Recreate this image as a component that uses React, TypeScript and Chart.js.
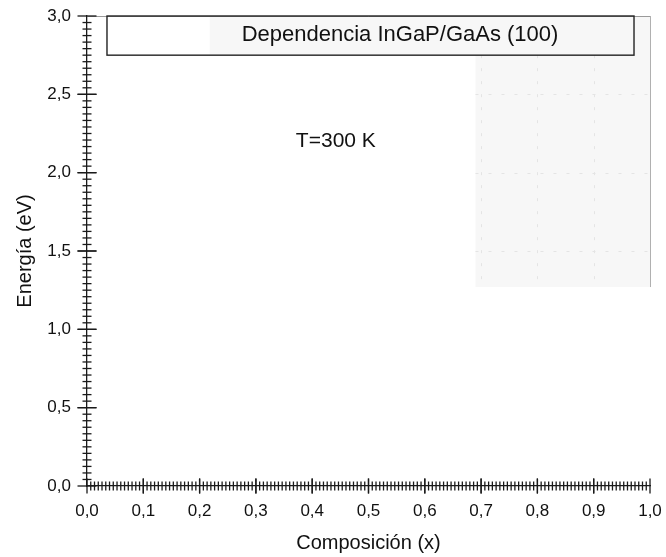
import React, { useEffect, useRef } from "react";
import { Chart, registerables } from "chart.js";

Chart.register(...registerables);

// Axis ranges and tick labels
const xTickValues = [0, 0.1, 0.2, 0.3, 0.4, 0.5, 0.6, 0.7, 0.8, 0.9, 1.0];
const xTickLabels = ["0,0", "0,1", "0,2", "0,3", "0,4", "0,5", "0,6", "0,7", "0,8", "0,9", "1,0"];
const yTickValues = [0, 0.5, 1.0, 1.5, 2.0, 2.5, 3.0];
const yTickLabels = ["0,0", "0,5", "1,0", "1,5", "2,0", "2,5", "3,0"];

// Series (the figure carries no plotted curves yet)
const seriesX: number[] = [];
const seriesY: number[] = [];

// Text annotations, anchored in data units
const titleText = "Dependencia InGaP/GaAs (100)";
const titleBoxX = [0.0355, 0.9716];
const titleBoxY = [3.0, 2.75];
const titleAt = [0.556, 2.876];
const tempText = "T=300 K";
const tempAt = [0.442, 2.2];

const FONT = "'Liberation Sans', Arial, Helvetica, sans-serif";

const fmt = (v: number, values: number[], labels: string[]) => {
  const i = values.findIndex((t) => Math.abs(t - v) < 1e-6);
  return i >= 0 ? labels[i] : "";
};

const decorPlugin = {
  id: "decor",
  beforeDatasetsDraw(chart: any) {
    const { ctx } = chart;
    const x = chart.scales.x;
    const y = chart.scales.y;
    ctx.save();
    // faint shaded patch in the upper right
    const rx0 = x.getPixelForValue(0.69);
    const rx1 = x.getPixelForValue(1.0);
    const ry0 = y.getPixelForValue(3.0);
    const ry1 = y.getPixelForValue(1.27);
    ctx.fillStyle = "#f7f7f7";
    ctx.fillRect(rx0, ry0, rx1 - rx0, ry1 - ry0);
    // shaded strip inside the title box
    const bx1 = x.getPixelForValue(titleBoxX[1]);
    const sx0 = x.getPixelForValue(0.218);
    const by0 = y.getPixelForValue(titleBoxY[0]);
    const by1 = y.getPixelForValue(titleBoxY[1]);
    ctx.fillRect(sx0, by0, bx1 - sx0, by1 - by0);
    // faint remnants of grid lines
    ctx.strokeStyle = "#e4e4e4";
    ctx.lineWidth = 1;
    ctx.setLineDash([3, 10]);
    [0.7, 0.8, 0.9].forEach((v) => {
      const px = Math.round(x.getPixelForValue(v)) + 0.5;
      ctx.beginPath();
      ctx.moveTo(px, by1);
      ctx.lineTo(px, ry1);
      ctx.stroke();
    });
    [2.5, 2.0, 1.5].forEach((v) => {
      const py = Math.round(y.getPixelForValue(v)) + 0.5;
      ctx.beginPath();
      ctx.moveTo(rx0, py);
      ctx.lineTo(rx1, py);
      ctx.stroke();
    });
    ctx.setLineDash([]);
    // light frame at top and right
    ctx.strokeStyle = "#9a9a9a";
    ctx.lineWidth = 1;
    ctx.beginPath();
    ctx.moveTo(x.getPixelForValue(0), Math.round(ry0) + 0.5);
    ctx.lineTo(rx1, Math.round(ry0) + 0.5);
    ctx.stroke();
    ctx.strokeStyle = "#b0b0b0";
    ctx.beginPath();
    ctx.moveTo(Math.round(rx1) + 0.5, ry0);
    ctx.lineTo(Math.round(rx1) + 0.5, ry1);
    ctx.stroke();
    ctx.restore();
  },
  afterDraw(chart: any) {
    const { ctx } = chart;
    const x = chart.scales.x;
    const y = chart.scales.y;
    ctx.save();
    ctx.strokeStyle = "#1a1a1a";
    ctx.lineWidth = 1.3;
    const ax = x.getPixelForValue(0);
    const ay = y.getPixelForValue(0);

    // y axis ticks: majors every 0.5, minors between
    const yMinorPerMajor = 12;
    for (let i = 0; i < yTickValues.length - 1; i++) {
      for (let k = 0; k <= yMinorPerMajor; k++) {
        const v = yTickValues[i] + ((yTickValues[i + 1] - yTickValues[i]) * k) / yMinorPerMajor;
        const py = y.getPixelForValue(v);
        const half = k === 0 || k === yMinorPerMajor ? 9.5 : 4.5;
        ctx.beginPath();
        ctx.moveTo(ax - half, py);
        ctx.lineTo(ax + half, py);
        ctx.stroke();
      }
    }
    // x axis ticks: majors every 0.1, minors between
    const xMinorPerMajor = 15;
    for (let i = 0; i < xTickValues.length - 1; i++) {
      for (let k = 0; k <= xMinorPerMajor; k++) {
        const v = xTickValues[i] + ((xTickValues[i + 1] - xTickValues[i]) * k) / xMinorPerMajor;
        const px = x.getPixelForValue(v);
        const half = k === 0 || k === xMinorPerMajor ? 7.5 : 4.5;
        ctx.beginPath();
        ctx.moveTo(px, ay - half);
        ctx.lineTo(px, ay + half);
        ctx.stroke();
      }
    }

    // title box
    const bx0 = x.getPixelForValue(titleBoxX[0]);
    const bx1 = x.getPixelForValue(titleBoxX[1]);
    const by0 = y.getPixelForValue(titleBoxY[0]);
    const by1 = y.getPixelForValue(titleBoxY[1]);
    ctx.strokeStyle = "#222";
    ctx.lineWidth = 1.4;
    ctx.strokeRect(bx0, by0, bx1 - bx0, by1 - by0);

    ctx.fillStyle = "#111";
    ctx.textAlign = "center";
    ctx.textBaseline = "middle";
    ctx.font = `22px ${FONT}`;
    ctx.fillText(titleText, x.getPixelForValue(titleAt[0]), y.getPixelForValue(titleAt[1]));
    ctx.font = `21px ${FONT}`;
    ctx.fillText(tempText, x.getPixelForValue(tempAt[0]), y.getPixelForValue(tempAt[1]));
    ctx.restore();
  },
};

export default function App() {
  const canvasRef = useRef<HTMLCanvasElement | null>(null);

  useEffect(() => {
    if (!canvasRef.current) return;
    const chart = new Chart(canvasRef.current, {
      type: "scatter",
      data: {
        datasets: [
          {
            data: seriesX.map((v, i) => ({ x: v, y: seriesY[i] })),
            borderColor: "#000",
            backgroundColor: "#000",
          },
        ],
      },
      options: {
        animation: false,
        responsive: false,
        maintainAspectRatio: false,
        layout: { padding: { top: 16, right: 16, left: 0, bottom: 0 } },
        plugins: { legend: { display: false }, tooltip: { enabled: false } },
        scales: {
          x: {
            type: "linear",
            min: 0,
            max: 1,
            afterBuildTicks: (s: any) => {
              s.ticks = xTickValues.map((v) => ({ value: v }));
            },
            afterFit: (s: any) => {
              s.height = 71;
              s.paddingLeft = 0;
              s.paddingRight = 0;
            },
            grid: { display: false, drawTicks: false },
            border: { display: true, color: "#1a1a1a", width: 1.3 },
            ticks: {
              padding: 15,
              color: "#111",
              font: { family: FONT, size: 17 },
              maxRotation: 0,
              autoSkip: false,
              callback: (v: any) => fmt(Number(v), xTickValues, xTickLabels),
            },
            title: {
              display: true,
              text: "Composición (x)",
              color: "#111",
              font: { family: FONT, size: 20 },
              padding: { top: 2, bottom: 2 },
            },
          },
          y: {
            type: "linear",
            min: 0,
            max: 3,
            afterBuildTicks: (s: any) => {
              s.ticks = yTickValues.map((v) => ({ value: v }));
            },
            afterFit: (s: any) => {
              s.width = 87;
              s.paddingTop = 0;
              s.paddingBottom = 0;
            },
            grid: { display: false, drawTicks: false },
            border: { display: true, color: "#1a1a1a", width: 1.3 },
            ticks: {
              padding: 16,
              color: "#111",
              font: { family: FONT, size: 17 },
              autoSkip: false,
              callback: (v: any) => fmt(Number(v), yTickValues, yTickLabels),
            },
            title: {
              display: true,
              text: "Energía (eV)",
              color: "#111",
              font: { family: FONT, size: 20 },
              padding: { top: 13, bottom: 0 },
            },
          },
        },
      },
      plugins: [decorPlugin],
    });
    return () => chart.destroy();
  }, []);

  return (
    <div style={{ position: "fixed", left: 0, top: 0, width: 666, height: 557, background: "#fff" }}>
      <canvas ref={canvasRef} width={666} height={557} style={{ display: "block" }} />
    </div>
  );
}
